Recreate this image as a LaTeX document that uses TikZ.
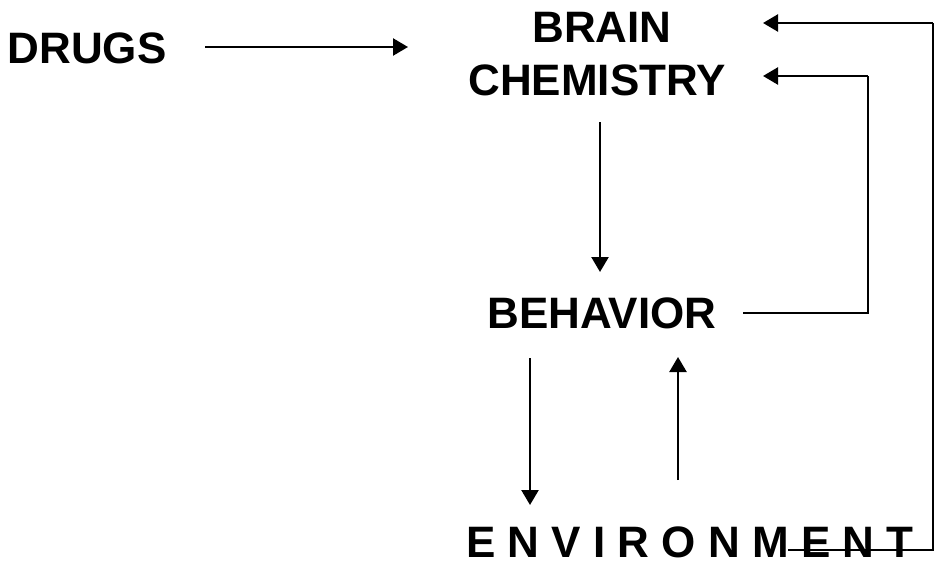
\documentclass[tikz,border=0pt]{standalone}
\usepackage{fontspec}
\setmainfont{Liberation Sans}
\usetikzlibrary{arrows.meta}
\begin{document}
\begin{tikzpicture}[x=1pt,y=-1pt,
  label/.style={font=\fontsize{44}{54}\selectfont\bfseries, inner sep=0pt, anchor=base},
  link/.style={line width=2.4pt, -{Triangle[length=15pt,width=17pt]}},
  plain/.style={line width=2.4pt}]
  \useasboundingbox (0,0) rectangle (937,570);

  % labels
  \node[label] (drugs) at (87,63) {DRUGS};
  \node[label] (brain) at (602,42) {BRAIN};
  \node[label] (chem) at (597,95) {CHEMISTRY};
  \node[label] (behav) at (602,328) {BEHAVIOR};
  \node[label] (env) at (690,557) {E N V I R O N M E N T};

  % arrow end points next to the labels
  \coordinate (drugsout) at (205,47);
  \coordinate (brainin) at (408,47);
  \coordinate (chemout) at (600,122);
  \coordinate (behavin) at (600,272);
  \coordinate (behavout) at (530,358);
  \coordinate (envin) at (530,505);
  \coordinate (envout) at (678,480);
  \coordinate (behavin2) at (678,357);

  % feedback corners
  \coordinate (envstart) at (788,550);
  \coordinate (outerc1) at (933,550);
  \coordinate (outerc2) at (933,23);
  \coordinate (outertip) at (763,23);
  \coordinate (behstart) at (743,313);
  \coordinate (innerc1) at (868,313);
  \coordinate (innerc2) at (868,76);
  \coordinate (innertip) at (763,76);

  % straight links
  \draw[link] (drugsout) -- (brainin);
  \draw[link] (chemout) -- (behavin);
  \draw[link] (behavout) -- (envin);
  \draw[link] (envout) -- (behavin2);

  % feedback loops
  \draw[plain] (behstart) -- (innerc1) -- (innerc2);
  \draw[link] (innerc2) -- (innertip);
  \draw[plain] (envstart) -- (outerc1) -- (outerc2);
  \draw[link] (outerc2) -- (outertip);
\end{tikzpicture}
\end{document}
